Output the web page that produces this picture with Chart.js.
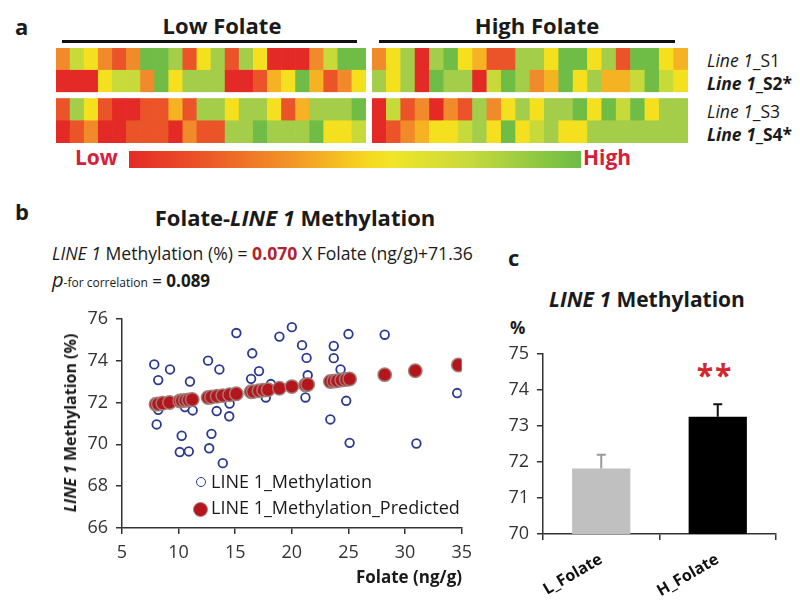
<!DOCTYPE html>
<html>
<head>
<meta charset="utf-8">
<script src="https://cdn.jsdelivr.net/npm/chart.js@4.4.1/dist/chart.umd.min.js"></script>
<style>
  body { margin: 0; width: 800px; height: 606px; background: #fff; position: relative; overflow: hidden;
         font-family: "Open Sans", Lato, sans-serif; color: #1a1a1a; }
  .abs { position: absolute; white-space: nowrap; line-height: 1; }
  .panel { font-weight: bold; font-size: 22px; }
  .bar-line { position: absolute; height: 3px; background: #111; }
  .rowlab { font-size: 17.5px; left: 707px; }
  .box { position: absolute; }
</style>
</head>
<body>

<!-- panel a -->
<div class="abs panel" style="left:15px; top:15px;">a</div>
<div class="abs" style="left:222px; top:14px; transform:translateX(-50%); font-weight:bold; font-size:22px;">Low Folate</div>
<div class="abs" style="left:537px; top:14px; transform:translateX(-50%); font-weight:bold; font-size:22px;">High Folate</div>
<div class="bar-line" style="left:62px; top:40px; width:295px;"></div>
<div class="bar-line" style="left:379px; top:40px; width:296px;"></div>
<div class="box" style="left:56px; top:48px; width:310px; height:95px;"><canvas id="heatLow" width="310" height="95"></canvas></div>
<div class="box" style="left:372px; top:48px; width:316px; height:95px;"><canvas id="heatHigh" width="316" height="95"></canvas></div>
<div class="abs rowlab" style="top:52px;"><i>Line 1</i>_S1</div>
<div class="abs rowlab" style="top:75px; font-weight:bold;"><i>Line 1</i>_S2*</div>
<div class="abs rowlab" style="top:103px;"><i>Line 1</i>_S3</div>
<div class="abs rowlab" style="top:126px; font-weight:bold;"><i>Line 1</i>_S4*</div>
<div class="abs" style="left:75px; top:147px; font-weight:bold; font-size:21px; color:#d6203a;">Low</div>
<div class="abs" style="left:583px; top:147px; font-weight:bold; font-size:21px; color:#d6203a;">High</div>
<div class="box" style="left:129px; top:151px; width:452px; height:17px;
     background:linear-gradient(to right,#e42a27 0%,#ec5a27 18%,#f29627 36%,#f6d520 52%,#f2e527 58%,#c8da3c 75%,#6cbc46 100%);"></div>

<!-- panel b -->
<div class="abs panel" style="left:15px; top:200px;">b</div>
<div class="abs" style="left:295px; top:206px; transform:translateX(-50%); font-weight:bold; font-size:22px;">Folate-<i>LINE 1</i> Methylation</div>
<div class="abs" style="left:52px; top:245px; font-size:17.6px;"><i>LINE 1</i> Methylation (%) = <b style="color:#b3232b">0.070</b> X Folate (ng/g)+71.36</div>
<div class="abs" style="left:52px; top:270px; font-size:17px;"><i style="font-size:20px">p</i><span style="font-size:12px">-for correlation</span> = <b>0.089</b></div>
<div class="box" style="left:40px; top:300px; width:440px; height:270px;"><canvas id="scatter" width="440" height="270"></canvas></div>
<div class="abs" style="left:70px; top:423px; transform:translate(-50%,-50%) rotate(-90deg); font-weight:bold; font-size:16px;"><i>LINE 1</i> Methylation (%)</div>
<div class="abs" style="left:462px; top:568px; transform:translateX(-100%); font-weight:bold; font-size:17px;">Folate (ng/g)</div>
<div class="box" style="left:196px; top:477px; width:8px; height:8px; border:1.8px solid #2b3990; border-radius:50%;"></div>
<div class="box" style="left:193px; top:502px; width:13px; height:13px; background:#b5161e; border:1px solid #a7877f; border-radius:50%;"></div>
<div class="abs" style="left:211px; top:472px; font-size:18px;">LINE 1_Methylation</div>
<div class="abs" style="left:211px; top:498px; font-size:18px;">LINE 1_Methylation_Predicted</div>

<!-- panel c -->
<div class="abs panel" style="left:508px; top:246px;">c</div>
<div class="abs" style="left:647px; top:289px; transform:translateX(-50%); font-weight:bold; font-size:21px;"><i>LINE 1</i> Methylation</div>
<div class="abs" style="left:510px; top:319px; font-weight:bold; font-size:17px;">%</div>
<div class="abs" style="left:715px; top:360px; transform:translateX(-50%); font-weight:bold; font-size:30px; color:#d3262d; letter-spacing:2px;">**</div>
<div class="box" style="left:490px; top:335px; width:300px; height:271px;"><canvas id="bars" width="300" height="271"></canvas></div>

<script>
/* ---------- dados ---------- */
// heatmap: nível 0 (vermelho, baixo) .. 7 (verde, alto), 22 amostras por grupo
const HEAT_COLORS = ['#e42a26', '#ea5428', '#f08a2a', '#f5b324', '#f5e01f', '#c8da3a', '#a4cd4a', '#6fbd46'];
const lowS1 = [2,5,4,2,1,2,7,7,6,1,4,6,1,6,4,0,0,0,2,5,7,7];
const lowS2 = [0,0,0,4,5,5,2,7,4,6,6,6,0,0,1,3,4,7,3,1,2,4];
const lowS3 = [1,6,4,1,0,0,1,1,3,1,6,6,4,6,6,4,1,3,6,6,6,7];
const lowS4 = [0,1,2,0,0,1,1,1,0,2,1,1,6,6,7,6,6,6,7,4,4,5];
const highS1 = [2,4,6,0,6,7,4,3,1,1,6,6,4,7,7,4,6,1,7,7,4,3];
const highS2 = [6,4,6,0,7,6,6,0,5,7,6,2,3,7,4,6,3,3,5,7,5,4];
const highS3 = [0,5,1,2,0,2,1,6,2,4,6,4,6,6,7,4,7,5,7,4,6,6];
const highS4 = [0,1,2,3,4,4,5,6,4,7,4,5,6,4,4,6,6,6,6,6,6,6];

// scatter: folato (ng/g) x metilação LINE 1 (%)
const obsFolate = [7.85, 9.24, 8.2, 11.0, 12.6, 13.6, 15.1, 16.5, 17.1, 16.4, 18.9, 20.0, 20.9, 21.3, 21.4,
                   23.7, 23.7, 24.3, 25.0, 28.2, 34.6, 8.2, 8.06, 10.27, 10.1, 10.9, 10.56, 11.24, 12.7, 12.9,
                   13.36, 13.9, 14.5, 14.47, 17.7, 21.2, 23.4, 24.8, 25.1, 31.0, 18.15];
const obsMeth = [73.82, 73.58, 73.07, 73.0, 74.0, 73.58, 75.32, 74.35, 73.5, 73.13, 75.15, 75.6, 74.74, 74.13, 73.3,
                 74.7, 74.12, 73.58, 75.27, 75.24, 72.45, 71.65, 70.95, 70.41, 69.63, 69.66, 71.78, 71.62, 69.81, 70.5,
                 71.59, 69.1, 71.95, 71.34, 72.24, 72.24, 71.19, 72.08, 70.07, 70.04, 72.88];
const predFolate = [8.0, 8.2, 8.6, 9.2, 10.1, 10.3, 10.6, 10.9, 11.2, 12.6, 12.9, 13.4, 13.9, 14.5, 15.1, 16.4, 16.6,
                    17.1, 17.5, 17.9, 18.9, 20.0, 21.2, 21.4, 23.4, 23.7, 24.0, 24.4, 24.8, 25.1, 28.2, 30.9, 34.7];
const predMeth = [71.92, 71.93, 71.96, 72.0, 72.07, 72.08, 72.1, 72.12, 72.14, 72.24, 72.26, 72.3, 72.33, 72.37, 72.42,
                  72.51, 72.52, 72.56, 72.59, 72.61, 72.68, 72.76, 72.84, 72.86, 73.0, 73.02, 73.04, 73.07, 73.1,
                  73.12, 73.33, 73.52, 73.79];

// barras
const barLabels = ['L_Folate', 'H_Folate'];
const barMeans = [71.82, 73.25];
const barErr = [0.38, 0.35];

const AXIS = '#333';
Chart.defaults.font.family = '"Open Sans", Lato, sans-serif';
Chart.defaults.color = AXIS;

/* ---------- heatmap (barras empilhadas) ---------- */
function heatmap(id, rows) {
  const n = rows[0].length;
  const band = (levels) => ({
    data: levels.map(() => 1),
    backgroundColor: levels.map(l => HEAT_COLORS[l]),
    borderWidth: 0, barPercentage: 1, categoryPercentage: 1
  });
  // empilha de baixo para cima: S4, S3, espaço, S2, S1
  const gap = { data: rows[0].map(() => 0.27), backgroundColor: '#fff', borderWidth: 0,
                barPercentage: 1, categoryPercentage: 1 };
  new Chart(document.getElementById(id), {
    type: 'bar',
    data: {
      labels: Array.from({ length: n }, (_, i) => i + 1),
      datasets: [band(rows[3]), band(rows[2]), gap, band(rows[1]), band(rows[0])]
    },
    options: {
      responsive: false, animation: false,
      plugins: { legend: { display: false }, tooltip: { enabled: false } },
      layout: { padding: 0 },
      scales: {
        x: { stacked: true, display: false },
        y: { stacked: true, display: false, min: 0, max: 4.27 }
      }
    }
  });
}
heatmap('heatLow', [lowS1, lowS2, lowS3, lowS4]);
heatmap('heatHigh', [highS1, highS2, highS3, highS4]);

/* ---------- scatter ---------- */
new Chart(document.getElementById('scatter'), {
  type: 'scatter',
  data: {
    datasets: [
      {
        label: 'LINE 1_Methylation',
        data: obsFolate.map((f, i) => ({ x: f, y: obsMeth[i] })),
        pointStyle: 'circle', pointRadius: 4.3, borderWidth: 1.8,
        borderColor: '#2b3990', backgroundColor: '#fff', order: 1
      },
      {
        label: 'LINE 1_Methylation_Predicted',
        data: predFolate.map((f, i) => ({ x: f, y: predMeth[i] })),
        pointStyle: 'circle', pointRadius: 6.7, borderWidth: 1.5,
        borderColor: 'rgba(160,128,120,0.95)', backgroundColor: '#b5161e', order: 0
      }
    ]
  },
  options: {
    responsive: false, animation: false,
    plugins: { legend: { display: false }, tooltip: { enabled: false } },
    layout: { padding: { top: 12, right: 18, left: 0, bottom: 0 } },
    scales: {
      x: {
        type: 'linear', min: 5, max: 35,
        ticks: { stepSize: 5, font: { size: 18 }, padding: 8, color: AXIS },
        grid: { drawOnChartArea: false, tickLength: 6, color: AXIS, lineWidth: 1.5 },
        border: { color: AXIS, width: 1.5 },
        afterFit: (s) => { s.height = 42; }
      },
      y: {
        min: 66, max: 76,
        ticks: { stepSize: 2, font: { size: 18 }, padding: 8, color: AXIS },
        grid: { drawOnChartArea: false, tickLength: 6, color: AXIS, lineWidth: 1.5 },
        border: { color: AXIS, width: 1.5 },
        afterFit: (s) => { s.width = 82; }
      }
    }
  }
});

/* ---------- barras com erro ---------- */
const errorBars = {
  id: 'errorBars',
  afterDatasetsDraw(chart) {
    const { ctx, scales: { x, y } } = chart;
    const colors = ['#9a9a9a', '#111'];
    barMeans.forEach((m, i) => {
      const px = x.getPixelForValue(i);
      const y0 = y.getPixelForValue(m);
      const y1 = y.getPixelForValue(m + barErr[i]);
      ctx.save();
      ctx.strokeStyle = colors[i];
      ctx.lineWidth = 2;
      ctx.beginPath();
      ctx.moveTo(px, y0); ctx.lineTo(px, y1);
      ctx.moveTo(px - 4.5, y1); ctx.lineTo(px + 4.5, y1);
      ctx.stroke();
      ctx.restore();
    });
  }
};

new Chart(document.getElementById('bars'), {
  type: 'bar',
  data: {
    labels: barLabels,
    datasets: [{
      data: barMeans,
      backgroundColor: ['#c0c0c0', '#000'],
      borderWidth: 0, barPercentage: 0.5, categoryPercentage: 1
    }]
  },
  options: {
    responsive: false, animation: false,
    plugins: { legend: { display: false }, tooltip: { enabled: false } },
    layout: { padding: { top: 16, right: 14, left: 0, bottom: 0 } },
    scales: {
      x: {
        ticks: { font: { size: 16, weight: 'bold' }, minRotation: 30, maxRotation: 30, padding: 10, color: '#111' },
        grid: { drawOnChartArea: false, tickLength: 6, color: AXIS, lineWidth: 1.5 },
        border: { color: AXIS, width: 1.5 },
        afterFit: (s) => { s.height = 72; }
      },
      y: {
        min: 70, max: 75,
        ticks: { stepSize: 1, font: { size: 18 }, padding: 8, color: AXIS },
        grid: { drawOnChartArea: false, tickLength: 6, color: AXIS, lineWidth: 1.5 },
        border: { color: AXIS, width: 1.5 },
        afterFit: (s) => { s.width = 53; }
      }
    }
  },
  plugins: [errorBars]
});
</script>
</body>
</html>
